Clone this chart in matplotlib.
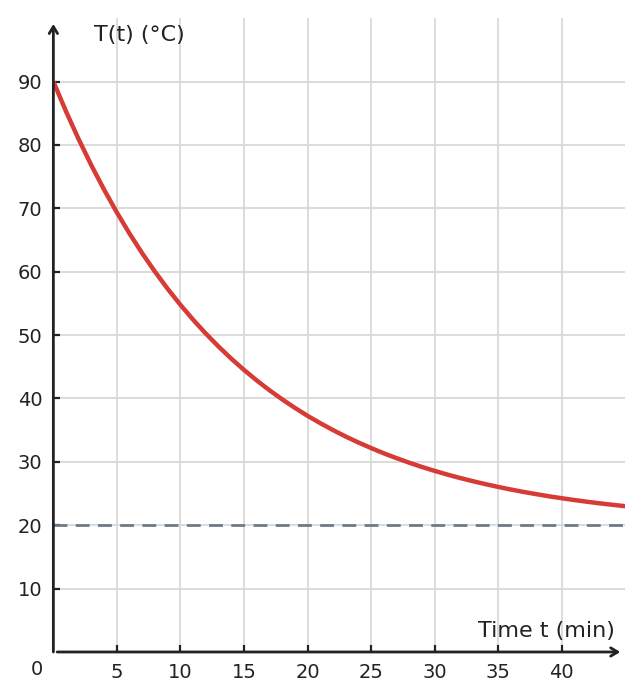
import matplotlib
matplotlib.use("Agg")
import matplotlib.pyplot as plt

# readings of the cooling curve, one per minute
time_min = list(range(0, 46))
temp_c = [90.00, 85.27, 80.86, 76.74, 72.91, 69.33, 65.99, 62.88, 59.98, 57.28,
          54.76, 52.41, 50.22, 48.18, 46.27, 44.50, 42.84, 41.30, 39.86, 38.52,
          37.26, 36.10, 35.01, 33.99, 33.05, 32.17, 31.34, 30.58, 29.86, 29.19,
          28.57, 27.99, 27.45, 26.95, 26.48, 26.04, 25.63, 25.25, 24.90, 24.56,
          24.26, 23.97, 23.70, 23.45, 23.22, 23.00]
room_temp = 20

x_ticks = [5, 10, 15, 20, 25, 30, 35, 40]
y_ticks = [10, 20, 30, 40, 50, 60, 70, 80, 90]

dark = "#222222"

fig = plt.figure(figsize=(6.43, 7.0), dpi=100)
ax = fig.add_axes([0.083, 0.0686, 0.8896, 0.9054])
ax.set_xlim(0, 45)
ax.set_ylim(0, 100)

for s in ax.spines.values():
    s.set_visible(False)

ax.set_xticks(x_ticks)
ax.set_yticks(y_ticks)
ax.grid(True, color="#d6d6d6", linewidth=1.2)
ax.set_axisbelow(True)
ax.tick_params(direction="in", length=5, width=1.6, colors=dark,
               labelsize=14, pad=8)

# asymptote and curve
ax.axhline(room_temp, color="#6e7b87", linewidth=2, dashes=(5, 3))
ax.plot(time_min, temp_c, color="#d63b36", linewidth=3.2,
        solid_capstyle="butt", zorder=3)

# axes with arrow heads
arrow = dict(arrowstyle="->,head_length=0.5,head_width=0.3",
             color=dark, linewidth=2, shrinkA=0, shrinkB=0)
ax.annotate("", xy=(44.6, 0), xytext=(0.3, 0), arrowprops=arrow,
            annotation_clip=False)
ax.annotate("", xy=(0, 99.1), xytext=(0, 0), arrowprops=arrow,
            annotation_clip=False)

ax.text(-1.3, -2.8, "0", ha="center", va="center", fontsize=14,
        color=dark, clip_on=False)
ax.text(3.2, 97.3, "T(t) (°C)", ha="left", va="center", fontsize=16,
        color=dark)
ax.text(44.2, 3.3, "Time t (min)", ha="right", va="center", fontsize=16,
        color=dark)

fig.savefig("out.png", dpi=100)
